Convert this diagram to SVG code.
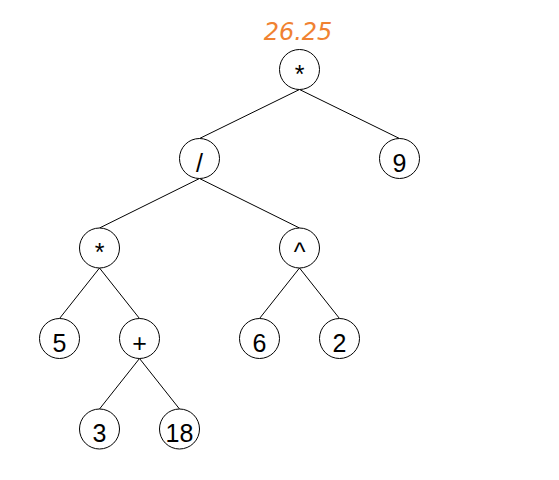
<svg xmlns="http://www.w3.org/2000/svg" width="559" height="480" viewBox="0 0 559 480">
  <style>
    .edge { stroke: #000; stroke-width: 1; fill: none; }
    .node circle { fill: #fff; stroke: #000; stroke-width: 1; }
    .node text { font-family: "Liberation Sans", Arial, sans-serif; font-size: 25px; fill: #000; text-anchor: middle; }
    .value { font-family: "DejaVu Sans", Verdana, sans-serif; font-style: italic; font-size: 24px; fill: #f08232; text-anchor: middle; }
  </style>
  <rect width="559" height="480" fill="#fff"/>

  <!-- result of evaluating the expression tree -->
  <text class="value" x="298" y="40">26.25</text>

  <!-- edges: parent bottom to child top -->
  <g id="edges">
    <line class="edge" x1="299.5" y1="89.5" x2="199.5" y2="138.5"/>
    <line class="edge" x1="299.5" y1="89.5" x2="399.5" y2="138.5"/>
    <line class="edge" x1="199.5" y1="178.5" x2="99.5" y2="228"/>
    <line class="edge" x1="199.5" y1="178.5" x2="299.5" y2="228"/>
    <line class="edge" x1="99.5" y1="268" x2="59.5" y2="318.5"/>
    <line class="edge" x1="99.5" y1="268" x2="139.5" y2="318.5"/>
    <line class="edge" x1="299.5" y1="268" x2="259.5" y2="318.5"/>
    <line class="edge" x1="299.5" y1="268" x2="339.5" y2="318.5"/>
    <line class="edge" x1="139.5" y1="358.5" x2="99.5" y2="409"/>
    <line class="edge" x1="139.5" y1="358.5" x2="179.5" y2="409"/>
  </g>

  <g id="n-root" class="node"><circle cx="299.5" cy="69.5" r="20"/><text x="299.5" y="82.5">*</text></g>
  <g id="n-div" class="node"><circle cx="199.5" cy="158.5" r="20"/><text x="199.5" y="171.5">/</text></g>
  <g id="n-9" class="node"><circle cx="399.5" cy="158.5" r="20"/><text x="399.5" y="171.5">9</text></g>
  <g id="n-mul" class="node"><circle cx="99.5" cy="248" r="20"/><text x="99.5" y="261">*</text></g>
  <g id="n-pow" class="node"><circle cx="299.5" cy="248" r="20"/><text x="299.5" y="261">^</text></g>
  <g id="n-5" class="node"><circle cx="59.5" cy="338.5" r="20"/><text x="59.5" y="351.5">5</text></g>
  <g id="n-add" class="node"><circle cx="139.5" cy="338.5" r="20"/><text x="139.5" y="351.5">+</text></g>
  <g id="n-6" class="node"><circle cx="259.5" cy="338.5" r="20"/><text x="259.5" y="351.5">6</text></g>
  <g id="n-2" class="node"><circle cx="339.5" cy="338.5" r="20"/><text x="339.5" y="351.5">2</text></g>
  <g id="n-3" class="node"><circle cx="99.5" cy="429" r="20"/><text x="99.5" y="442">3</text></g>
  <g id="n-18" class="node"><circle cx="179.5" cy="429" r="20"/><text x="179.5" y="442">18</text></g>
</svg>
